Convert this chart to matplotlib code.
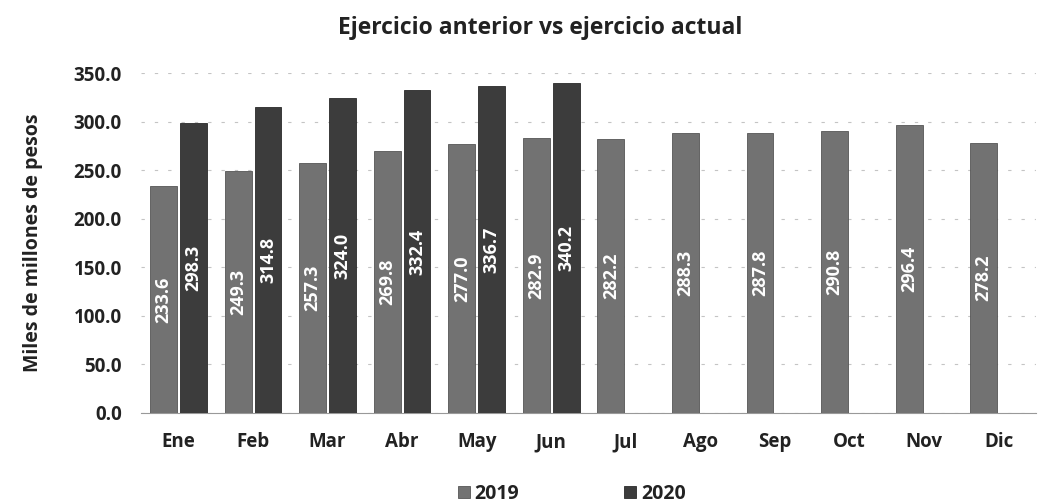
import numpy as np
import matplotlib.pyplot as plt

# ========== Data ==========
months = ["Ene", "Feb", "Mar", "Abr", "May", "Jun", "Jul", "Ago", "Sep", "Oct", "Nov", "Dic"]
y2019 = [233.6, 249.3, 257.3, 269.8, 277.0, 282.9, 282.2, 288.3, 287.8, 290.8, 296.4, 278.2]
y2020 = [298.3, 314.8, 324.0, 332.4, 336.7, 340.2]

plt.rcParams['font.family'] = ['Open Sans', 'DejaVu Sans']

fig = plt.figure(figsize=(10.38, 5.04), dpi=100)
ax = fig.add_axes([0.136, 0.181, 0.862, 0.674])

x = np.arange(len(months))
w = 0.36
off = 0.2
b1 = ax.bar(x - off, y2019, width=w, color="#727272", edgecolor="#555555", linewidth=0.6, label="2019", zorder=3)
b2 = ax.bar(x[:len(y2020)] + off, y2020, width=w, color="#3c3c3c", edgecolor="#2a2a2a", linewidth=0.6, label="2020", zorder=3)

for bars in (b1, b2):
    ax.bar_label(bars, labels=[f"{v:.1f}" for v in bars.datavalues], label_type="center",
                 rotation=90, color="white", fontsize=13, fontweight="bold")

ax.set_xlim(-0.5, len(months) - 0.5)
ax.set_ylim(0, 350)
ax.set_yticks(np.arange(0, 351, 50))
ax.set_yticklabels([f"{v:.1f}" for v in np.arange(0, 351, 50)], fontsize=13.5, fontweight="bold", color="#222222")
ax.set_xticks(x)
ax.set_xticklabels(months, fontsize=13.5, fontweight="bold", color="#222222")
ax.tick_params(axis="both", length=0)
ax.tick_params(axis="x", pad=14)
ax.tick_params(axis="y", pad=14)

ax.grid(axis="y", linestyle=(0, (3, 9)), color="#c4c4c4", linewidth=0.8, zorder=0)
for s in ("top", "right", "left"):
    ax.spines[s].set_visible(False)
ax.spines["bottom"].set_color("#999999")

ax.set_ylabel("Miles de millones de pesos", fontsize=14, fontweight="bold", color="#222222", labelpad=22)
fig.suptitle("Ejercicio anterior vs ejercicio actual", fontsize=16.5, fontweight="bold", color="#222222",
             x=0.52, y=0.968)

leg = fig.legend(handles=[b1, b2], loc="lower center", bbox_to_anchor=(0.551, -0.035), ncol=2,
                 frameon=False, fontsize=14, handlelength=0.6, handleheight=0.6,
                 handletextpad=0.25, columnspacing=5.4)
for t in leg.get_texts():
    t.set_fontweight("bold")
    t.set_color("#222222")

fig.savefig("out.png", dpi=100)
